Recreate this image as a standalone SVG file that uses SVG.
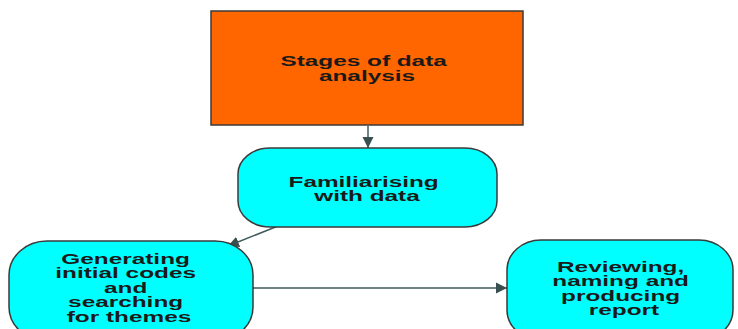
<svg xmlns="http://www.w3.org/2000/svg" width="738" height="329" viewBox="0 0 738 329">
  <style>
    .title { fill: #ff6600; stroke: #3a3a3a; stroke-width: 1.5; }
    .stage { fill: #00ffff; stroke: #3a3a3a; stroke-width: 1.5; }
    .label { font-family: "Liberation Sans", Arial, sans-serif; font-size: 14px; font-weight: bold; fill: #1a1a1a; text-anchor: middle; }
    .link { fill: none; stroke: #3f5a5a; stroke-width: 1.5; }
  </style>
  <defs>
    <marker id="arrow" viewBox="0 0 10 10" refX="10" refY="5" markerWidth="11" markerHeight="12" markerUnits="userSpaceOnUse" orient="auto">
      <path d="M0,0 L10,5 L0,10 Z" fill="#3a5050"/>
    </marker>
  </defs>
  <rect width="738" height="329" fill="#ffffff"/>

  <g id="connectors">
    <line class="link" x1="368" y1="126" x2="368" y2="148" marker-end="url(#arrow)"/>
    <line class="link" x1="278" y1="226" x2="228" y2="246" marker-end="url(#arrow)"/>
    <line class="link" x1="253" y1="288" x2="507" y2="288" marker-end="url(#arrow)"/>
  </g>

  <g id="stages-of-data-analysis">
    <rect class="title" x="211" y="11" width="312" height="114"/>
    <text class="label" transform="translate(367,66) scale(1.74,1)">
      <tspan x="0" y="0">Stages of data</tspan>
      <tspan x="0" y="15">analysis</tspan>
    </text>
  </g>

  <g id="familiarising">
    <rect class="stage" x="238" y="148" width="259" height="79" rx="32" ry="26"/>
    <text class="label" transform="translate(367,187) scale(1.74,1)">
      <tspan x="0" y="0">Familiarising</tspan>
      <tspan x="0" y="14.5">with data</tspan>
    </text>
  </g>

  <g id="generating-codes">
    <rect class="stage" x="9" y="241" width="244" height="100" rx="38" ry="34"/>
    <text class="label" transform="translate(129,264) scale(1.74,1)">
      <tspan x="0" y="0">Generating</tspan>
      <tspan x="0" y="14.5">initial codes</tspan>
      <tspan x="0" y="29">and</tspan>
      <tspan x="0" y="43.5">searching</tspan>
      <tspan x="0" y="58">for themes</tspan>
    </text>
  </g>

  <g id="reviewing-report">
    <rect class="stage" x="507" y="240" width="226" height="100" rx="34" ry="30"/>
    <text class="label" transform="translate(624,272) scale(1.74,1)">
      <tspan x="0" y="0">Reviewing,</tspan>
      <tspan x="0" y="14.5">naming and</tspan>
      <tspan x="0" y="29">producing</tspan>
      <tspan x="0" y="43.5">report</tspan>
    </text>
  </g>
</svg>
